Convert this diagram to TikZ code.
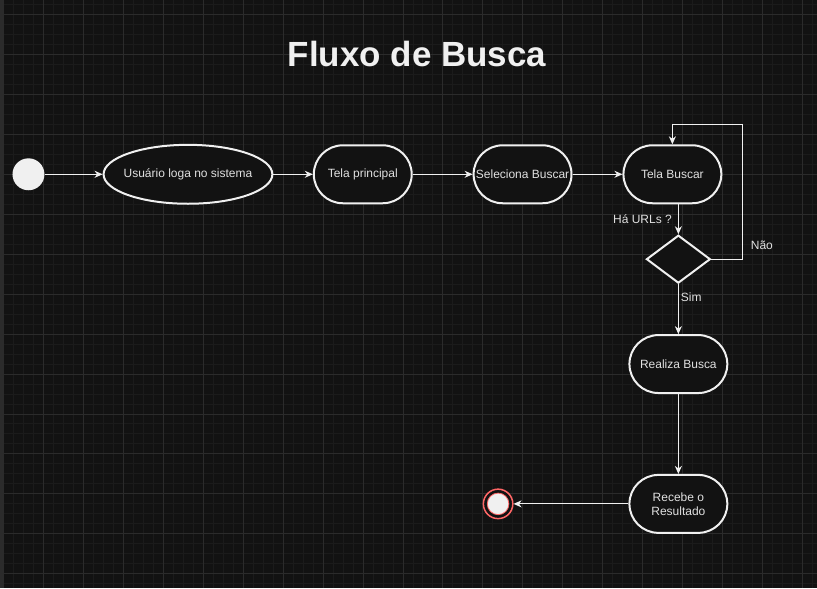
\documentclass[tikz,border=0pt]{standalone}
\usepackage{fontspec}
\setmainfont{Liberation Sans}
\usetikzlibrary{shapes.geometric}
\usetikzlibrary{positioning}
\usetikzlibrary{arrows.meta}

\definecolor{bgcol}{HTML}{121212}
\definecolor{minorcol}{HTML}{1B1B1B}
\definecolor{majorcol}{HTML}{2B2B2B}
\definecolor{linecol}{HTML}{F0F0F0}
\definecolor{textcol}{HTML}{E0E0E0}
\definecolor{stopcol}{HTML}{FF6666}

\begin{document}
\begin{tikzpicture} [
    x=1pt, y=-1pt,
    txt/.style = {text=textcol, font=\fontsize{12}{14}\selectfont},
    start/.style = {circle, fill=linecol, minimum size=32pt, inner sep=0pt},
    finish/.style = {circle, draw=stopcol, line width=1.5pt, fill=bgcol, minimum size=29.5pt, inner sep=0pt,
        path picture={\fill[linecol, draw=stopcol, line width=0.8pt] (path picture bounding box.center) circle (10.8pt);}},
    usecase/.style = {txt, draw=linecol, line width=2pt, fill=bgcol, ellipse, minimum width=169pt, minimum height=59pt, inner sep=0pt},
    screen/.style = {txt, draw=linecol, line width=2pt, fill=bgcol, rectangle, rounded corners=29pt, minimum width=98pt, minimum height=58pt, inner sep=1pt, align=center},
    decision/.style = {draw=linecol, line width=2pt, fill=bgcol, diamond, minimum width=64pt, minimum height=48pt, inner sep=0pt},
    arr/.style = {draw=linecol, line width=1.2pt, -{Stealth[length=8pt, width=7pt, inset=2.5pt]}},
    lbl/.style = {txt, inner sep=1pt}
    ]
    % background and grid
    \fill[bgcol] (0,0) rectangle (817,588);
    \foreach \x in {3,13,...,813} \draw[minorcol, line width=1pt] (\x,0) -- (\x,588);
    \foreach \y in {4,14,...,584} \draw[minorcol, line width=1pt] (0,\y) -- (817,\y);
    \foreach \x in {3,43,...,803} \draw[majorcol, line width=1pt] (\x,0) -- (\x,588);
    \foreach \y in {14,54,...,574} \draw[majorcol, line width=1pt] (0,\y) -- (817,\y);
    \fill[majorcol] (0,0) rectangle (2.5,588);
    \useasboundingbox (0,0) rectangle (817,588);

    \node[text=linecol, font=\fontsize{35}{40}\selectfont\bfseries, anchor=base] (title) at (417,66) {Fluxo de Busca};

    \node[start] (start) at (28,174) {};
    \node[usecase, right=58pt of start] (login) {\makebox[0pt]{Usuário loga no sistema}};
    \node[screen, right=39.5pt of login] (main) {Tela principal};
    \node[screen, right=60pt of main] (select) {Seleciona Buscar};
    \node[screen, right=50pt of select] (search) {Tela Buscar};
    \node[decision, below=30pt of search, xshift=6pt] (dec) {};
    \node[screen, below=50pt of dec] (run) {Realiza Busca};
    \node[screen, below=80pt of run] (result) {Recebe o\\Resultado};
    \node[finish, left=115pt of result] (stop) {};
    \coordinate[above right=20pt and 20pt of search.north east] (loop);

    \path (start) edge[arr] (login)
          (login) edge[arr] (main)
          (main) edge[arr] (select)
          (select) edge[arr] (search);
    \path (search.south -| dec.north) edge[arr] node[lbl, left=5pt] {Há URLs ?} (dec.north);
    \draw[arr] (dec.east) -| node[lbl, pos=0.55, right=7pt] {Não} (loop) -| (search.north);
    \path (dec) edge[arr] node[lbl, pos=0.26, right=1pt] {Sim} (run);
    \path (run) edge[arr] (result);
    \path (result) edge[arr] (stop);
  \end{tikzpicture}
\end{document}
